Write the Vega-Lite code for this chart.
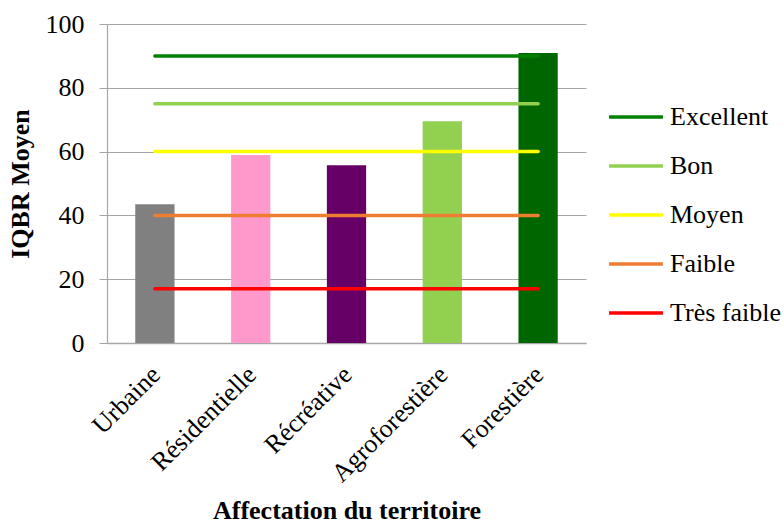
{
  "$schema": "https://vega.github.io/schema/vega-lite/v6.json",
  "width": 479,
  "height": 319,
  "autosize": {"type": "none"},
  "padding": {"left": 107, "top": 24, "right": 198, "bottom": 182},
  "background": "white",
  "config": {
    "view": {"stroke": null},
    "font": "Liberation Serif"
  },
  "datasets": {
    "bars": [
      {"affectation": "Urbaine", "iqbr": 43.5},
      {"affectation": "Résidentielle", "iqbr": 58.9},
      {"affectation": "Récréative", "iqbr": 55.7},
      {"affectation": "Agroforestière", "iqbr": 69.5},
      {"affectation": "Forestière", "iqbr": 90.9}
    ],
    "levels": [
      {"classe": "Excellent", "affectation": "Urbaine", "seuil": 90},
      {"classe": "Excellent", "affectation": "Forestière", "seuil": 90},
      {"classe": "Bon", "affectation": "Urbaine", "seuil": 75},
      {"classe": "Bon", "affectation": "Forestière", "seuil": 75},
      {"classe": "Moyen", "affectation": "Urbaine", "seuil": 60},
      {"classe": "Moyen", "affectation": "Forestière", "seuil": 60},
      {"classe": "Faible", "affectation": "Urbaine", "seuil": 40},
      {"classe": "Faible", "affectation": "Forestière", "seuil": 40},
      {"classe": "Très faible", "affectation": "Urbaine", "seuil": 17},
      {"classe": "Très faible", "affectation": "Forestière", "seuil": 17}
    ]
  },
  "layer": [
    {
      "data": {"name": "bars"},
      "mark": {"type": "bar"},
      "encoding": {
        "x": {
          "field": "affectation", "type": "nominal", "sort": null,
          "scale": {"domain": ["Urbaine", "Résidentielle", "Récréative", "Agroforestière", "Forestière"], "paddingInner": 0.59, "paddingOuter": 0.295},
          "axis": {
            "title": "Affectation du territoire", "titleFont": "Liberation Serif", "titleColor": "black", "titleFontSize": 26, "titleFontWeight": "bold", "titlePadding": 11,
            "labelFont": "Liberation Serif", "labelFontWeight": "normal", "labelColor": "black",
            "labelAngle": -45, "labelFontSize": 26, "labelPadding": 18, "labelOffset": -8, "ticks": false,
            "domainColor": "#A6A6A6", "domainWidth": 1.5
          }
        },
        "y": {
          "field": "iqbr", "type": "quantitative",
          "scale": {"domain": [0, 100], "nice": false},
          "axis": {
            "title": "IQBR Moyen", "titleFont": "Liberation Serif", "titleColor": "black", "titleFontSize": 26, "titleFontWeight": "bold", "titlePadding": 12,
            "labelFont": "Liberation Serif", "labelFontWeight": "normal", "labelColor": "black",
            "values": [0, 20, 40, 60, 80, 100], "labelFontSize": 26, "labelPadding": 15,
            "tickSize": 8, "tickColor": "#A6A6A6", "gridColor": "#A6A6A6", "gridWidth": 1.2,
            "domainColor": "#A6A6A6", "domainWidth": 1.2
          }
        },
        "color": {
          "field": "affectation", "type": "nominal",
          "scale": {"domain": ["Urbaine", "Résidentielle", "Récréative", "Agroforestière", "Forestière"], "range": ["#808080", "#FF99CC", "#660066", "#92D050", "#006600"]},
          "legend": null
        }
      }
    },
    {
      "data": {"name": "levels"},
      "mark": {"type": "line", "strokeWidth": 3.5, "strokeCap": "round"},
      "encoding": {
        "x": {"field": "affectation", "type": "nominal", "sort": null},
        "y": {"field": "seuil", "type": "quantitative"},
        "detail": {"field": "classe"},
        "color": {
          "field": "classe", "type": "nominal",
          "scale": {"domain": ["Excellent", "Bon", "Moyen", "Faible", "Très faible"], "range": ["#008000", "#92D050", "#FFFF00", "#ED7D31", "#FF0000"]},
          "legend": {
            "title": null, "orient": "none", "legendX": 500, "legendY": 64,
            "symbolType": "stroke", "symbolSize": 2900, "symbolStrokeWidth": 3.5,
            "labelFont": "Liberation Serif", "labelFontWeight": "normal",
            "labelFontSize": 26, "labelColor": "black", "labelOffset": 5, "rowPadding": 7
          }
        }
      }
    }
  ],
  "resolve": {"scale": {"color": "independent"}}
}
